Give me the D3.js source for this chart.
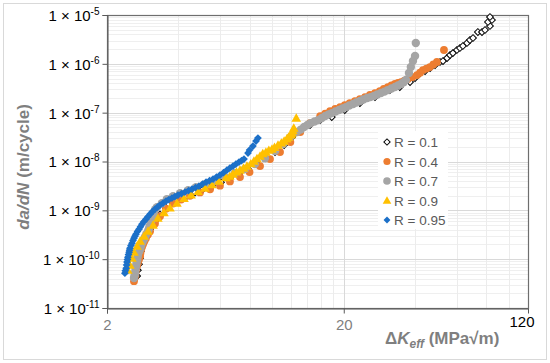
<!DOCTYPE html>
<html><head><meta charset="utf-8">
<script src="https://cdn.jsdelivr.net/npm/d3@7"></script>
<style>body{margin:0;background:#fff}svg{display:block}</style>
</head><body>
<svg id="chart" width="550" height="363"></svg>
<script>
// ---- data: [ΔKeff (MPa√m), da/dN (m/cycle)] ----
const seriesNames = ["R = 0.1", "R = 0.4", "R = 0.7", "R = 0.9", "R = 0.95"];
const r01 = [[2.68,4.5e-11],[2.70,5.95e-11],[2.73,7.9e-11],[2.76,1.05e-10],[2.78,1.46e-10],[2.84,2.03e-10],[2.92,2.82e-10],[3.04,4.12e-10],[3.19,5.9e-10],[3.35,8.2e-10],[3.55,1.12e-9],[3.80,1.42e-9],[4.07,1.72e-9],[4.35,1.98e-9],[4.71,2.32e-9],[5.09,2.72e-9],[5.55,3.18e-9],[6.06,3.75e-9],[6.61,4.57e-9],[7.22,5.52e-9],[7.88,6.99e-9],[8.60,8.84e-9],[9.38,1.17e-8],[10.25,1.56e-8],[11.2,2.17e-8],[12.1,3.16e-8],[13.1,4.2e-8],[14.4,5.57e-8],[15.9,7.05e-8],[17.8,8.13e-8],[20.2,1.13e-7],[23.4,1.57e-7],[27.1,2.09e-7],[31.3,2.9e-7],[34.5,3.35e-7],[38.1,4.24e-7],[40.0,5.12e-7],[42.0,6.48e-7],[44.1,7.1e-7],[46.3,8.2e-7],[48.6,9.45e-7],[51.0,1.09e-6],[52.5,1.14e-6],[54.6,1.31e-6],[56.2,1.51e-6],[57.8,1.66e-6],[60.1,1.92e-6],[61.9,2.11e-6],[63.7,2.32e-6],[66.3,2.67e-6],[68.2,3.07e-6],[70.3,3.38e-6],[73.7,4.48e-6],[76.7,4.48e-6],[79.0,4.93e-6],[82.9,5.95e-6],[81.3,7.19e-6],[84.5,7.9e-6],[82.9,9.1e-6]];
const r04 = [[2.60,3.54e-11],[2.615,4.1e-11],[2.63,4.7e-11],[2.64,5.4e-11],[2.65,6.2e-11],[2.675,7.2e-11],[2.70,8.3e-11],[2.73,9.8e-11],[2.76,1.15e-10],[2.77,1.33e-10],[2.78,1.53e-10],[2.81,1.77e-10],[2.84,2.03e-10],[2.88,2.35e-10],[2.92,2.69e-10],[2.98,3.2e-10],[3.04,3.75e-10],[3.19,5.4e-10],[3.35,7.6e-10],[3.55,1.08e-9],[3.80,1.38e-9],[4.11,1.66e-9],[4.48,1.98e-9],[4.94,2.33e-9],[5.45,2.7e-9],[6.00,3.2e-9],[6.61,3.9e-9],[7.29,4.79e-9],[8.00,6.07e-9],[8.86,8.05e-9],[9.76,1.12e-8],[10.76,1.56e-8],[11.9,2.50e-8],[13.1,4.0e-8],[14.4,6.12e-8],[15.9,8.52e-8],[16.7,9.6e-8],[17.5,1.08e-7],[18.4,1.19e-7],[19.3,1.30e-7],[20.2,1.43e-7],[21.2,1.57e-7],[22.3,1.73e-7],[23.4,1.90e-7],[24.6,2.09e-7],[25.8,2.30e-7],[27.1,2.52e-7],[28.4,2.77e-7],[29.5,3.05e-7],[30.7,3.35e-7],[31.8,3.6e-7],[32.9,3.86e-7],[33.9,4.05e-7],[34.9,4.24e-7],[36.1,4.55e-7],[37.3,4.88e-7],[39.0,5.35e-7],[40.8,5.89e-7],[42.0,6.6e-7],[43.2,7.46e-7],[44.7,8.0e-7],[46.2,8.6e-7],[47.8,9.7e-7],[49.5,1.09e-6],[53.0,1.92e-6]];
const r07 = [[2.60,4.1e-11],[2.615,4.7e-11],[2.63,5.4e-11],[2.64,6.3e-11],[2.65,7.2e-11],[2.665,8.3e-11],[2.68,9.5e-11],[2.69,1.08e-10],[2.70,1.21e-10],[2.73,1.4e-10],[2.76,1.60e-10],[2.785,1.85e-10],[2.81,2.13e-10],[2.85,2.45e-10],[2.89,2.82e-10],[2.93,3.25e-10],[2.98,3.75e-10],[3.01,4.3e-10],[3.04,4.97e-10],[3.07,5.8e-10],[3.10,6.9e-10],[3.13,8.0e-10],[3.16,9.2e-10],[3.20,1.05e-9],[3.25,1.16e-9],[3.41,1.40e-9],[3.58,1.70e-9],[3.80,1.95e-9],[4.07,2.25e-9],[4.40,2.59e-9],[4.75,2.99e-9],[5.19,3.44e-9],[5.72,3.97e-9],[6.30,4.79e-9],[6.94,5.78e-9],[7.65,6.99e-9],[8.43,8.84e-9],[9.29,1.17e-8],[10.25,1.63e-8],[11.1,2.27e-8],[11.9,3.16e-8],[12.7,4.0e-8],[13.15,4.5e-8],[13.6,5.07e-8],[14.05,5.6e-8],[14.5,6.12e-8],[15.05,6.6e-8],[15.6,7.05e-8],[16.15,7.8e-8],[16.7,8.52e-8],[17.25,9.2e-8],[17.8,9.8e-8],[18.45,1.06e-7],[19.1,1.13e-7],[19.75,1.22e-7],[20.4,1.30e-7],[21.1,1.40e-7],[21.9,1.50e-7],[22.6,1.62e-7],[23.4,1.73e-7],[24.2,1.86e-7],[25.1,1.99e-7],[25.9,2.08e-7],[26.8,2.19e-7],[27.7,2.35e-7],[28.7,2.52e-7],[29.7,2.7e-7],[30.7,2.9e-7],[31.8,3.12e-7],[32.9,3.35e-7],[33.9,3.6e-7],[34.9,3.86e-7],[35.8,4.2e-7],[36.6,4.66e-7],[37.7,6.48e-7],[38.4,8.6e-7],[39.2,1.14e-6],[40.0,1.45e-6],[40.3,2.67e-6]];
const r09 = [[2.45,5.95e-11],[2.50,7.5e-11],[2.55,1.05e-10],[2.60,1.39e-10],[2.68,1.85e-10],[2.76,2.34e-10],[2.87,2.96e-10],[2.98,3.75e-10],[3.13,5.0e-10],[3.28,6.9e-10],[3.48,9.0e-10],[3.69,1.12e-9],[3.95,1.4e-9],[4.23,1.76e-9],[4.53,2.08e-9],[4.85,2.45e-9],[5.19,2.85e-9],[5.55,3.35e-9],[5.94,3.95e-9],[6.36,4.65e-9],[6.6,5.0e-9],[6.81,5.52e-9],[7.05,6.1e-9],[7.29,6.66e-9],[7.55,7.3e-9],[7.80,8.05e-9],[8.1,9.0e-9],[8.35,1.02e-8],[8.6,1.15e-8],[8.86,1.29e-8],[9.1,1.45e-8],[9.38,1.56e-8],[9.65,1.7e-8],[9.95,1.80e-8],[10.2,1.95e-8],[10.55,2.17e-8],[10.9,2.4e-8],[11.2,2.62e-8],[11.5,2.9e-8],[11.7,3.16e-8],[12.0,3.5e-8],[12.1,3.82e-8],[12.2,4.3e-8],[12.3,4.84e-8],[12.6,7.75e-8]];
const r095 = [[2.38,5.16e-11],[2.39,5.8e-11],[2.41,6.5e-11],[2.42,7.6e-11],[2.43,8.7e-11],[2.44,9.8e-11],[2.45,1.10e-10],[2.465,1.24e-10],[2.48,1.39e-10],[2.49,1.53e-10],[2.50,1.68e-10],[2.525,1.9e-10],[2.55,2.13e-10],[2.575,2.4e-10],[2.60,2.69e-10],[2.625,2.95e-10],[2.65,3.25e-10],[2.69,3.7e-10],[2.73,4.12e-10],[2.77,4.6e-10],[2.81,5.21e-10],[2.865,5.9e-10],[2.92,6.6e-10],[2.98,7.4e-10],[3.04,8.36e-10],[3.11,9.4e-10],[3.19,1.06e-9],[3.27,1.17e-9],[3.35,1.28e-9],[3.45,1.41e-9],[3.55,1.55e-9],[3.65,1.66e-9],[3.76,1.78e-9],[3.87,1.91e-9],[3.99,2.05e-9],[4.13,2.2e-9],[4.27,2.36e-9],[4.42,2.54e-9],[4.57,2.72e-9],[4.73,2.92e-9],[4.89,3.13e-9],[5.06,3.45e-9],[5.24,3.78e-9],[5.42,4.05e-9],[5.61,4.36e-9],[5.8,4.8e-9],[6.00,5.26e-9],[6.21,5.9e-9],[6.42,6.67e-9],[6.6,7.3e-9],[6.81,8.05e-9],[7.0,8.8e-9],[7.22,9.72e-9],[7.4,1.04e-8],[7.58,1.12e-8],[7.88,1.49e-8],[8.00,1.71e-8],[8.27,2.07e-8],[8.52,2.62e-8],[8.68,3.02e-8]];

const xTicks = [2, 20];
const xEndLabel = 120;
const yTicks = [1e-11, 1e-10, 1e-9, 1e-8, 1e-7, 1e-6, 1e-5];
const xGridMinor = [4, 6, 8, 10, 12, 14, 16, 18, 40, 60, 80, 100];
const xGridMajor = [20];

// ---- layout ----
const svg = d3.select("#chart");
const W = 550, H = 363;
const L = 107, R = 528, T = 15, B = 308;
const FONT = "'Liberation Sans', Arial, Helvetica, sans-serif";

const x = d3.scaleLog().domain([2, 120]).range([L, R]);
const y = d3.scaleLog().domain([1e-11, 1e-5]).range([B, T]);

svg.append("rect").attr("x", 3.5).attr("y", 3.5).attr("width", W - 7).attr("height", H - 7)
  .attr("fill", "#fff").attr("stroke", "#d9d9d9");

// gridlines
const grid = svg.append("g");
const yAll = y.ticks();
grid.selectAll("line.hm").data(yAll.filter(v => Math.abs(Math.log10(v) - Math.round(Math.log10(v))) > 1e-6))
  .join("line").attr("x1", L).attr("x2", R).attr("y1", d => Math.round(y(d)) + 0.5).attr("y2", d => Math.round(y(d)) + 0.5)
  .attr("stroke", "#efefef").attr("stroke-width", 1);
grid.selectAll("line.vm").data(xGridMinor).join("line")
  .attr("y1", T).attr("y2", B).attr("x1", d => Math.round(x(d)) + 0.5).attr("x2", d => Math.round(x(d)) + 0.5)
  .attr("stroke", "#ececec").attr("stroke-width", 1);
grid.selectAll("line.vM").data(xGridMajor).join("line")
  .attr("y1", T).attr("y2", B).attr("x1", d => Math.round(x(d)) + 0.5).attr("x2", d => Math.round(x(d)) + 0.5)
  .attr("stroke", "#d9d9d9").attr("stroke-width", 1);
grid.selectAll("line.hM").data(yTicks).join("line")
  .attr("x1", L).attr("x2", R).attr("y1", d => Math.round(y(d)) + 0.5).attr("y2", d => Math.round(y(d)) + 0.5)
  .attr("stroke", "#d9d9d9").attr("stroke-width", 1);

// plot border
svg.append("rect").attr("x", L + 0.5).attr("y", T + 0.5).attr("width", R - L).attr("height", B - T)
  .attr("fill", "none").attr("stroke", "#6e6e6e").attr("stroke-width", 1.2);

// axes
const yAxis = svg.append("g").attr("transform", `translate(${L + 0.5},0)`)
  .call(d3.axisLeft(y).tickValues(yTicks).tickSize(5).tickFormat(() => ""));
yAxis.select(".domain").attr("stroke", "#595959");
yAxis.selectAll(".tick line").attr("stroke", "#595959");
yAxis.selectAll(".tick").each(function (d) {
  const e = Math.round(Math.log10(d));
  const t = d3.select(this).append("text").attr("x", -8).attr("dy", "0.36em")
    .attr("text-anchor", "end").attr("fill", "#000").attr("font-family", FONT).attr("font-size", 15);
  t.append("tspan").text("1 × 10");
  t.append("tspan").attr("dy", -6).attr("font-size", 10).text("-" + Math.abs(e));
});

const xAxis = svg.append("g").attr("transform", `translate(0,${B + 0.5})`)
  .call(d3.axisBottom(x).tickValues(xTicks).tickSize(5).tickPadding(6).tickFormat(d3.format("d")));
xAxis.select(".domain").attr("stroke", "#595959");
xAxis.selectAll(".tick line").attr("stroke", "#595959");
xAxis.selectAll(".tick text").attr("font-family", FONT).attr("font-size", 15).attr("fill", "#7f7f7f");
svg.append("text").attr("x", x(xEndLabel) - 6).attr("y", 327).attr("text-anchor", "middle")
  .attr("font-family", FONT).attr("font-size", 15).attr("fill", "#000").text(xEndLabel);

// axis titles
const yt = svg.append("text").attr("transform", "translate(29,167) rotate(-90)").attr("text-anchor", "middle")
  .attr("font-family", FONT).attr("font-size", 17).attr("font-weight", "bold").attr("fill", "#7f7f7f");
yt.append("tspan").attr("font-style", "italic").text("da/dN");
yt.append("tspan").text(" (m/cycle)");

const xt = svg.append("text").attr("x", 385).attr("y", 344).attr("text-anchor", "start")
  .attr("font-family", FONT).attr("font-size", 17).attr("font-weight", "bold").attr("fill", "#7f7f7f");
xt.append("tspan").text("Δ");
xt.append("tspan").attr("font-style", "italic").text("K");
xt.append("tspan").attr("font-style", "italic").attr("font-size", 12).attr("dy", 4).text("eff");
xt.append("tspan").attr("dy", -4).text(" (MPa√m)");

// markers
const markers = [
  { data: r01, draw: (g) => g.append("path").attr("d", d3.symbol(d3.symbolSquare, 23)()).attr("transform", "rotate(45)").attr("fill", "#fff").attr("stroke", "#000").attr("stroke-width", 1) },
  { data: r04, draw: (g) => g.append("circle").attr("r", 3.9).attr("fill", "#ED7D31") },
  { data: r07, draw: (g) => g.append("circle").attr("r", 4.2).attr("fill", "#A5A5A5") },
  { data: r09, draw: (g) => g.append("path").attr("d", "M0,-4.8L4.8,3.6L-4.8,3.6Z").attr("fill", "#FFC000") },
  { data: r095, draw: (g) => g.append("path").attr("d", d3.symbol(d3.symbolSquare, 30)()).attr("transform", "rotate(45)").attr("fill", "#1c70c8") }
];
const plot = svg.append("g");
markers.forEach(m => {
  plot.append("g").selectAll("g").data(m.data).join("g")
    .attr("transform", d => `translate(${x(d[0])},${y(d[1])})`)
    .each(function () { m.draw(d3.select(this)); });
});

// legend
const lg = svg.append("g");
lg.append("rect").attr("x", 378).attr("y", 131).attr("width", 70).attr("height", 98).attr("fill", "#fff");
const rowY = d3.scalePoint().domain(seriesNames).range([142, 220]);
const legendDraw = [
  (g) => g.append("path").attr("d", d3.symbol(d3.symbolSquare, 20)()).attr("transform", "rotate(45)").attr("fill", "#fff").attr("stroke", "#000").attr("stroke-width", 1),
  (g) => g.append("circle").attr("r", 3.6).attr("fill", "#ED7D31"),
  (g) => g.append("circle").attr("r", 3.8).attr("fill", "#A5A5A5"),
  (g) => g.append("path").attr("d", "M0,-4.3L4.3,3.2L-4.3,3.2Z").attr("fill", "#FFC000"),
  (g) => g.append("path").attr("d", d3.symbol(d3.symbolSquare, 24)()).attr("transform", "rotate(45)").attr("fill", "#1c70c8")
];
seriesNames.forEach((n, i) => {
  const g = lg.append("g").attr("transform", `translate(387,${rowY(n)})`);
  legendDraw[i](g);
  lg.append("text").attr("x", 394).attr("y", rowY(n) + 5).attr("font-family", FONT).attr("font-size", 13.5)
    .attr("fill", "#595959").text(n);
});
</script>
</body></html>
